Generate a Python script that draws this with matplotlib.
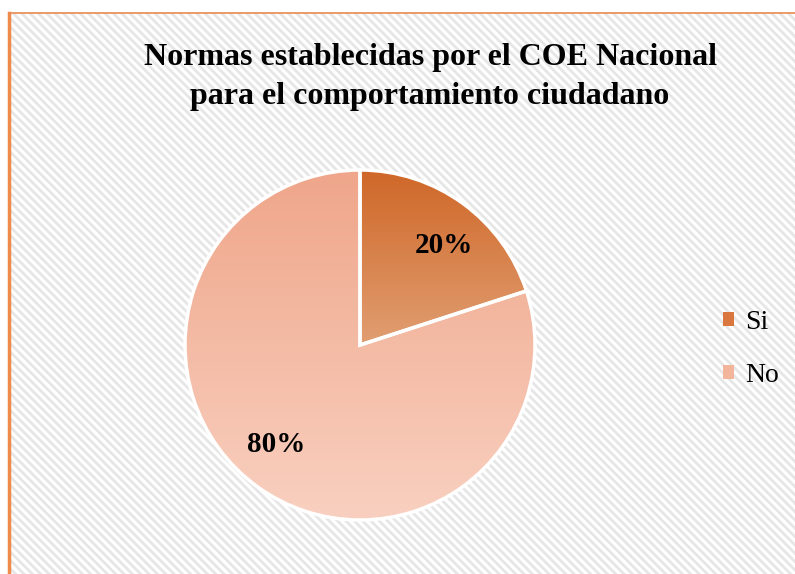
import numpy as np
import matplotlib.pyplot as plt
from matplotlib.colors import LinearSegmentedColormap
from matplotlib.patches import Rectangle
from matplotlib.lines import Line2D

title = "Normas establecidas por el COE Nacional\npara el comportamiento ciudadano"
labels = ["Si", "No"]
values = [20, 80]
# gradient colours (top of pie, bottom of pie) for each slice
top_colors = ["#CF6728", "#EFA68A"]
bottom_colors = ["#F3D6BC", "#F9D0C0"]
legend_colors = ["#D9773F", "#F3B49C"]

plt.rcParams["font.family"] = ["Liberation Serif", "DejaVu Serif"]
plt.rcParams["hatch.linewidth"] = 2.0

W, H = 795, 574
fig = plt.figure(figsize=(W / 100, H / 100), dpi=100)

# striped chart area with orange border on top/left
bg = Rectangle((9 / W, 0), 1, 1 - 13 / H, transform=fig.transFigure,
               facecolor="white", edgecolor="#E6E6E6", hatch="\\\\\\\\",
               linewidth=0, zorder=-5)
fig.patches.append(bg)
fig.add_artist(Line2D([9 / W, 9 / W], [0, 1 - 13 / H], color="#F08A4B",
                      linewidth=2.5, transform=fig.transFigure))
fig.add_artist(Line2D([9 / W, 1], [1 - 13 / H, 1 - 13 / H], color="#E98A52",
                      linewidth=1.2, transform=fig.transFigure))

cx, cy, r = 360, 345, 175
ax = fig.add_axes([(cx - r) / W, (H - cy - r) / H, 2 * r / W, 2 * r / H])

wedges, texts, autotexts = ax.pie(
    values, startangle=90, counterclock=False, radius=1,
    autopct="%d%%", pctdistance=0.745,
    wedgeprops=dict(edgecolor="white", linewidth=2.5, facecolor="none"),
    textprops=dict(fontsize=21, fontweight="bold", color="black"),
)
for t in texts:
    t.set_text("")

for w, c1, c2 in zip(wedges, top_colors, bottom_colors):
    cmap = LinearSegmentedColormap.from_list("g", [c1, c2])
    grad = np.linspace(0, 1, 256).reshape(-1, 1)
    im = ax.imshow(grad, cmap=cmap, extent=[-1, 1, -1, 1], origin="upper",
                   aspect="auto", zorder=1)
    im.set_clip_path(w)
    w.set_zorder(2)

# labels sit a little clockwise of the slice middle in the original
rot = np.deg2rad(-4)
for t in autotexts:
    x, y = t.get_position()
    t.set_position((x * np.cos(rot) - y * np.sin(rot),
                    x * np.sin(rot) + y * np.cos(rot)))
    t.set_zorder(3)

ax.set_xlim(-1, 1)
ax.set_ylim(-1, 1)
ax.axis("off")

fig.text(430 / W, 1 - 77 / H, title, ha="center", va="center",
         fontsize=23, fontweight="bold", linespacing=1.45)

handles = [Rectangle((0, 0), 1, 1, facecolor=c, edgecolor="none")
           for c in legend_colors]
fig.legend(handles, labels, loc="center left",
           bbox_to_anchor=(698 / W, 1 - 349 / H), frameon=False,
           fontsize=20, handlelength=0.4, handleheight=0.4,
           handletextpad=0.4, labelspacing=1.0)

fig.savefig("out.png", dpi=100)
